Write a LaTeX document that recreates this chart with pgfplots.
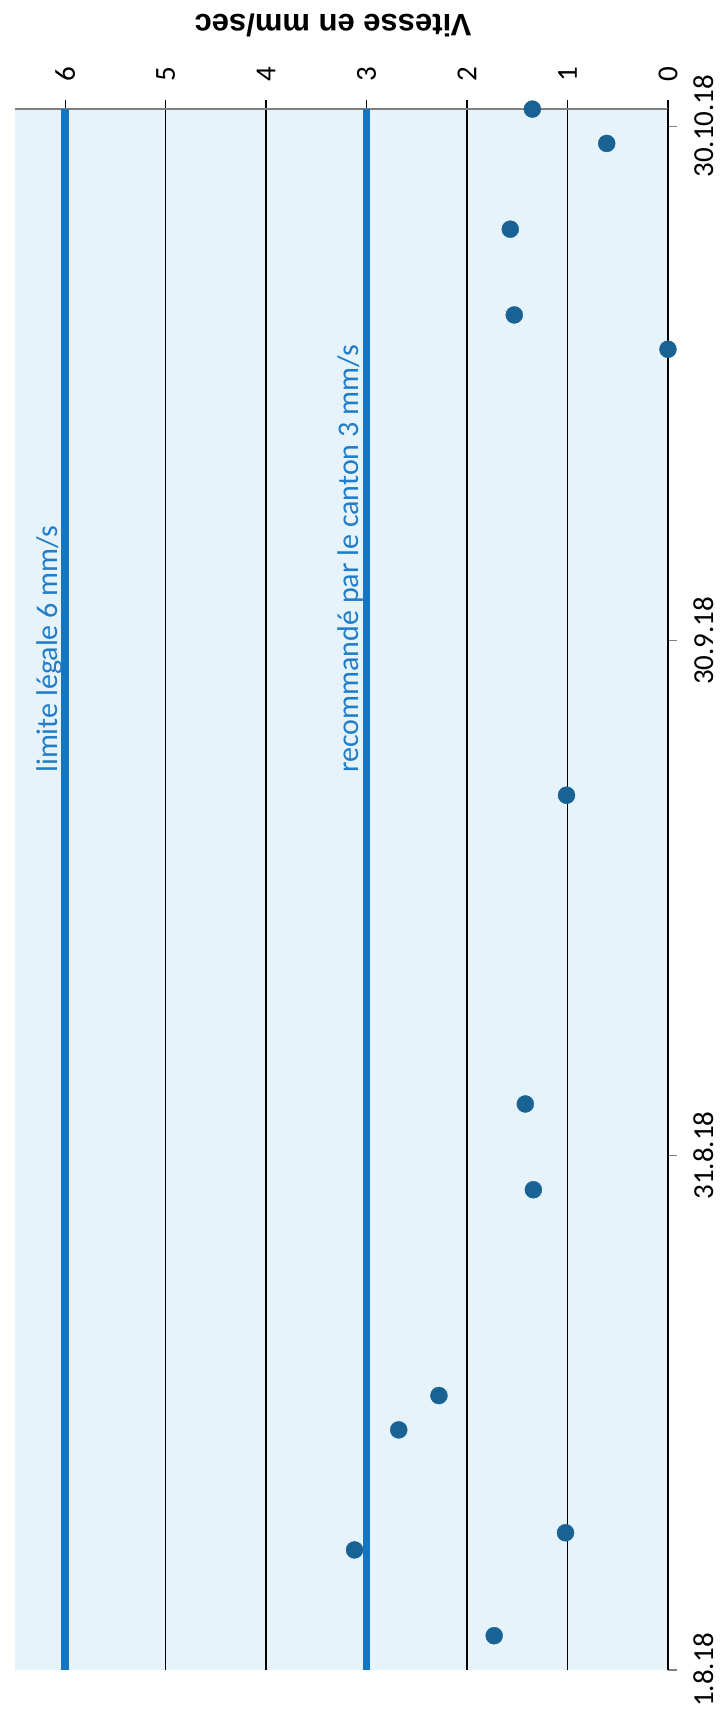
\documentclass[border=0pt]{standalone}
\usepackage{pgfplots}
\pgfplotsset{compat=1.18}
\usepackage{fontspec}
\setmainfont{Carlito}
\newfontfamily\titlefont{Liberation Sans}
\definecolor{plotbg}{RGB}{231,243,251}
\definecolor{limblue}{RGB}{22,117,192}
\definecolor{dotblue}{RGB}{24,98,148}
\definecolor{txtblue}{RGB}{34,125,200}
\begin{document}
\begin{tikzpicture}
\path[use as bounding box] (-15pt,-47pt) rectangle (706pt,1670pt);
\begin{axis}[
  name=ax,
  at={(0pt,0pt)}, anchor=south west,
  scale only axis, width=653pt, height=1561pt,
  x dir=reverse, xmin=0, xmax=6.5, ymin=0, ymax=91,
  axis background/.style={fill=plotbg},
  axis line style={draw=none},
  xtick={0,1,2,3,4,5,6},
  xticklabels={0,1,2,3,4,5,6},
  xtick pos=right, xticklabel pos=right,
  ytick={0,30,60,90},
  yticklabels={1.8.18,31.8.18,30.9.18,30.10.18},
  ytick pos=right, yticklabel pos=right,
  tick align=outside, major tick length=9pt,
  xtick style={black, line width=1.3pt},
  ytick style={gray, line width=1.3pt},
  xmajorgrids, grid style={black, line width=1.3pt},
  xticklabel shift=18pt, yticklabel shift=16pt,
  xticklabel style={font=\fontsize{29}{34}\selectfont, rotate=90, anchor=west, inner sep=0pt},
  yticklabel style={font=\fontsize{29}{34}\selectfont, rotate=90, anchor=north, inner sep=0pt},
  clip=false,
]
% axis lines
\draw[gray, line width=1.5pt] (rel axis cs:0,1) -- (rel axis cs:1,1);
\draw[black, line width=1.8pt] (axis cs:0,0) -- (axis cs:0,91);
% limit lines
\addplot[limblue, line width=7.5pt] coordinates {(6,0) (6,91)};
\addplot[limblue, line width=7.5pt] coordinates {(3,0) (3,91)};
% measurements (day since 1.8.18, speed mm/s)
\addplot[only marks, mark=*, mark size=8.5pt, mark options={fill=dotblue, draw=dotblue}]
  table[x=v, y=d] {
d v
2 1.73
7 3.12
8 1.02
14 2.68
16 2.28
28 1.34
33 1.42
51 1.01
77 0.0
79 1.53
84 1.57
89 0.61
91 1.35
};
\node[rotate=90, anchor=base west, text=txtblue, inner sep=0pt, font=\fontsize{30}{36}\selectfont] at (axis cs:6.08,52.3) {limite légale 6 mm/s};
\node[rotate=90, anchor=base west, text=txtblue, inner sep=0pt, font=\fontsize{30}{36}\selectfont] at (axis cs:3.085,52.3) {recommandé par le canton 3 mm/s};
\end{axis}
\node[rotate=180, font=\titlefont\bfseries\fontsize{31}{36}\selectfont] at (318pt,1645pt) {Vitesse en mm/sec};
\end{tikzpicture}
\end{document}
